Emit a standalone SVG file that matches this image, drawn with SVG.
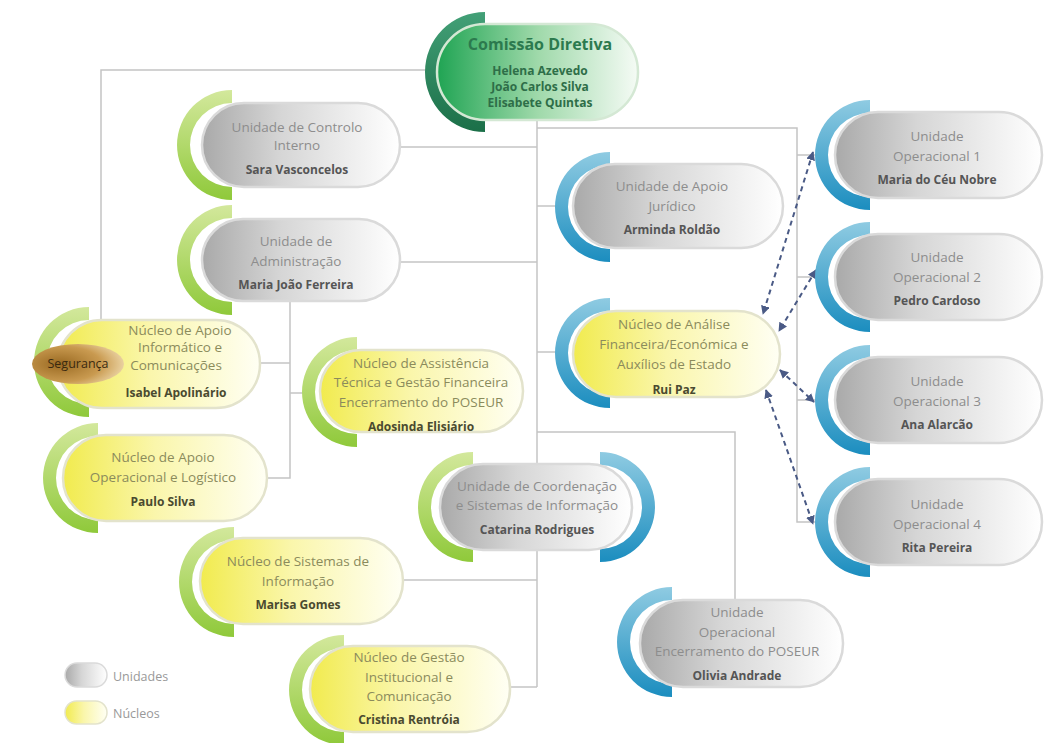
<svg xmlns="http://www.w3.org/2000/svg" width="1045" height="743" viewBox="0 0 1045 743">
<defs>
<linearGradient id="gUnit" x1="0" y1="0" x2="1" y2="0"><stop offset="0" stop-color="#a9a9a9"/><stop offset="0.4" stop-color="#d6d6d6"/><stop offset="1" stop-color="#ffffff"/></linearGradient>
<linearGradient id="gNuc" x1="0" y1="0" x2="1" y2="0"><stop offset="0" stop-color="#f1eb4e"/><stop offset="0.45" stop-color="#faf6ab"/><stop offset="1" stop-color="#fffff4"/></linearGradient>
<linearGradient id="gCom" x1="0" y1="0" x2="1" y2="0"><stop offset="0" stop-color="#1fa453"/><stop offset="0.5" stop-color="#9fd9aa"/><stop offset="1" stop-color="#f5fbf5"/></linearGradient>
<linearGradient id="gArcG" x1="0" y1="0" x2="0" y2="1"><stop offset="0" stop-color="#d3e89c"/><stop offset="1" stop-color="#8fc93a"/></linearGradient>
<linearGradient id="gArcB" x1="0" y1="0" x2="0" y2="1"><stop offset="0" stop-color="#8fcbe2"/><stop offset="1" stop-color="#1b8dbf"/></linearGradient>
<linearGradient id="gArcC" x1="0" y1="0" x2="0" y2="1"><stop offset="0" stop-color="#43a077"/><stop offset="1" stop-color="#1b6f48"/></linearGradient>
<radialGradient id="gSeg" cx="0.3" cy="0.5" r="0.75"><stop offset="0" stop-color="#9a6a22"/><stop offset="0.6" stop-color="#c99a50"/><stop offset="1" stop-color="#f0dcb0"/></radialGradient>
<path id="arcL" d="M0,-55 A55,55 0 0 0 0,55 L0,42 A42,42 0 0 1 0,-42 Z"/>
<path id="arcR" d="M0,-55 A55,55 0 0 1 0,55 L0,42 A42,42 0 0 0 0,-42 Z"/>
<marker id="ah" viewBox="0 0 10 10" refX="9" refY="5" markerWidth="9" markerHeight="9" markerUnits="userSpaceOnUse" orient="auto-start-reverse"><path d="M0,0 L10,5 L0,10 Z" fill="#4a5a85"/></marker>
</defs>
<style>
.conn{fill:none;stroke:#c4c4c4;stroke-width:1.5}
.dash{fill:none;stroke:#4a5a85;stroke-width:2;stroke-dasharray:5 4;marker-start:url(#ah);marker-end:url(#ah)}
.pu{fill:url(#gUnit);stroke:#dadada;stroke-width:2.5}
.pn{fill:url(#gNuc);stroke:#e3e3cc;stroke-width:2.5}
.ag{fill:url(#gArcG)}
.ab{fill:url(#gArcB)}
text{font-family:"Open Sans","Liberation Sans",sans-serif;text-anchor:middle}
.tu{font-size:13.5px;fill:#8d8d8d}
.tn{font-size:13.5px;fill:#8b8b5c}
.nu{font-size:12px;font-weight:bold;fill:#555}
.nn{font-size:12px;font-weight:bold;fill:#4a4a30}
.tc{font-size:16px;font-weight:bold;fill:#2c7a4e}
.nc{font-size:12px;font-weight:bold;fill:#2e6e48}
.lg{font-size:12.5px;fill:#999;text-anchor:start}
</style>
<rect width="1045" height="743" fill="#ffffff"/>
<g id="connectors">
<path class="conn" d="M440,70 H101 V345"/>
<path class="conn" d="M537,118 V687"/>
<path class="conn" d="M400,147 H537"/>
<path class="conn" d="M537,128 H797 V522 H815"/>
<path class="conn" d="M797,155 H815 M797,277 H815 M797,400 H815"/>
<path class="conn" d="M537,206 H556"/>
<path class="conn" d="M400,262 H537"/>
<path class="conn" d="M537,352 H556"/>
<path class="conn" d="M290,300 V478 H267"/>
<path class="conn" d="M260,363 H290"/>
<path class="conn" d="M290,393 H304"/>
<path class="conn" d="M537,432 H735 V600"/>
<path class="conn" d="M403,580 H537"/>
<path class="conn" d="M510,687 H537"/>
<path class="dash" d="M813,152 L763,314"/>
<path class="dash" d="M816,270 L779,331"/>
<path class="dash" d="M780,370 L814,402"/>
<path class="dash" d="M766,390 L813,524"/>
</g>
<g id="n-comissao">
<path d="M485,12 A60,60 0 0 0 485,132 L485,119 A47,47 0 0 1 485,25 Z" fill="url(#gArcC)"/>
<rect x="437" y="24" width="201" height="96" rx="48" fill="url(#gCom)" stroke="#d4e8d4" stroke-width="2.5"/>
<text class="tc" x="540" y="50">Comissão Diretiva</text>
<text class="nc" x="540" y="75">Helena Azevedo</text>
<text class="nc" x="540" y="91">João Carlos Silva</text>
<text class="nc" x="540" y="107">Elisabete Quintas</text>
</g>
<g id="n-controlo">
<use href="#arcL" x="232" y="145" class="ag"/>
<rect class="pu" x="202" y="103" width="198" height="84" rx="42"/>
<text class="tu" x="297" y="132">Unidade de Controlo</text>
<text class="tu" x="297" y="150">Interno</text>
<text class="nu" x="297" y="174">Sara Vasconcelos</text>
</g>
<g id="n-administracao">
<use href="#arcL" x="232" y="260" class="ag"/>
<rect class="pu" x="202" y="219" width="198" height="82" rx="41"/>
<text class="tu" x="296" y="246">Unidade de</text>
<text class="tu" x="296" y="266">Administração</text>
<text class="nu" x="296" y="289">Maria João Ferreira</text>
</g>
<g id="n-informatico">
<use href="#arcL" x="89" y="362" class="ag"/>
<rect class="pn" x="58" y="320" width="202" height="88" rx="44"/>
<text class="tn" x="180" y="335">Núcleo de Apoio</text>
<text class="tn" x="180" y="352">Informático e</text>
<text class="tn" x="176" y="370">Comunicações</text>
<text class="nn" x="176" y="397">Isabel Apolinário</text>
</g>
<g id="n-seguranca">
<ellipse cx="78" cy="364" rx="46" ry="20" fill="url(#gSeg)"/>
<text x="78" y="368" style="font-size:12.5px;fill:#3a2a10">Segurança</text>
</g>
<g id="n-assistencia">
<use href="#arcL" x="357" y="392" class="ag"/>
<rect class="pn" x="320" y="350" width="203" height="82" rx="41"/>
<text class="tn" x="421" y="368">Núcleo de Assistência</text>
<text class="tn" x="421" y="387">Técnica e Gestão Financeira</text>
<text class="tn" x="421" y="407">Encerramento do POSEUR</text>
<text class="nn" x="421" y="431">Adosinda Elisiário</text>
</g>
<g id="n-juridico">
<use href="#arcL" x="610" y="207" class="ab"/>
<rect class="pu" x="573" y="164" width="210" height="84" rx="42"/>
<text class="tu" x="672" y="191">Unidade de Apoio</text>
<text class="tu" x="672" y="211">Jurídico</text>
<text class="nu" x="672" y="234">Arminda Roldão</text>
</g>
<g id="n-analise">
<use href="#arcL" x="610" y="353" class="ab"/>
<rect class="pn" x="573" y="311" width="207" height="86" rx="43"/>
<text class="tn" x="674" y="329">Núcleo de Análise</text>
<text class="tn" x="674" y="349">Financeira/Económica e</text>
<text class="tn" x="674" y="369">Auxílios de Estado</text>
<text class="nn" x="674" y="394">Rui Paz</text>
</g>
<g id="n-uo1">
<use href="#arcL" x="870" y="155" class="ab"/>
<rect class="pu" x="835" y="112" width="207" height="86" rx="43"/>
<text class="tu" x="937" y="141">Unidade</text>
<text class="tu" x="937" y="161">Operacional 1</text>
<text class="nu" x="937" y="184">Maria do Céu Nobre</text>
</g>
<g id="n-uo2">
<use href="#arcL" x="870" y="277" class="ab"/>
<rect class="pu" x="835" y="234" width="207" height="86" rx="43"/>
<text class="tu" x="937" y="262">Unidade</text>
<text class="tu" x="937" y="282">Operacional 2</text>
<text class="nu" x="937" y="305">Pedro Cardoso</text>
</g>
<g id="n-uo3">
<use href="#arcL" x="870" y="400" class="ab"/>
<rect class="pu" x="835" y="357" width="207" height="86" rx="43"/>
<text class="tu" x="937" y="386">Unidade</text>
<text class="tu" x="937" y="406">Operacional 3</text>
<text class="nu" x="937" y="429">Ana Alarcão</text>
</g>
<g id="n-uo4">
<use href="#arcL" x="870" y="522" class="ab"/>
<rect class="pu" x="835" y="479" width="207" height="86" rx="43"/>
<text class="tu" x="937" y="509">Unidade</text>
<text class="tu" x="937" y="529">Operacional 4</text>
<text class="nu" x="937" y="552">Rita Pereira</text>
</g>
<g id="n-logistico">
<use href="#arcL" x="98" y="478" class="ag"/>
<rect class="pn" x="63" y="435" width="204" height="86" rx="43"/>
<text class="tn" x="163" y="462">Núcleo de Apoio</text>
<text class="tn" x="163" y="482">Operacional e Logístico</text>
<text class="nn" x="163" y="506">Paulo Silva</text>
</g>
<g id="n-sistemas">
<use href="#arcL" x="234" y="582" class="ag"/>
<rect class="pn" x="200" y="538" width="203" height="86" rx="43"/>
<text class="tn" x="298" y="566">Núcleo de Sistemas de</text>
<text class="tn" x="298" y="586">Informação</text>
<text class="nn" x="298" y="609">Marisa Gomes</text>
</g>
<g id="n-coordenacao">
<use href="#arcL" x="473" y="507" class="ag"/>
<use href="#arcR" x="600" y="507" class="ab"/>
<rect class="pu" x="440" y="464" width="192" height="86" rx="43"/>
<text class="tu" x="537" y="491">Unidade de Coordenação</text>
<text class="tu" x="537" y="510">e Sistemas de Informação</text>
<text class="nu" x="537" y="534">Catarina Rodrigues</text>
</g>
<g id="n-gestao">
<use href="#arcL" x="344" y="690" class="ag"/>
<rect class="pn" x="310" y="646" width="200" height="86" rx="43"/>
<text class="tn" x="409" y="662">Núcleo de Gestão</text>
<text class="tn" x="409" y="682">Institucional e</text>
<text class="tn" x="409" y="701">Comunicação</text>
<text class="nn" x="409" y="724">Cristina Rentróia</text>
</g>
<g id="n-encerramento">
<use href="#arcL" x="672" y="642" class="ab"/>
<rect class="pu" x="640" y="600" width="203" height="87" rx="43"/>
<text class="tu" x="737" y="617">Unidade</text>
<text class="tu" x="737" y="637">Operacional</text>
<text class="tu" x="737" y="656">Encerramento do POSEUR</text>
<text class="nu" x="737" y="680">Olivia Andrade</text>
</g>
<g id="legend">
<rect x="65" y="663" width="42" height="24" rx="12" fill="url(#gUnit)" stroke="#dadada" stroke-width="1.5"/>
<text class="lg" x="113" y="681">Unidades</text>
<rect x="65" y="701" width="42" height="23" rx="11.5" fill="url(#gNuc)" stroke="#e3e3cc" stroke-width="1.5"/>
<text class="lg" x="113" y="718">Núcleos</text>
</g>
</svg>
